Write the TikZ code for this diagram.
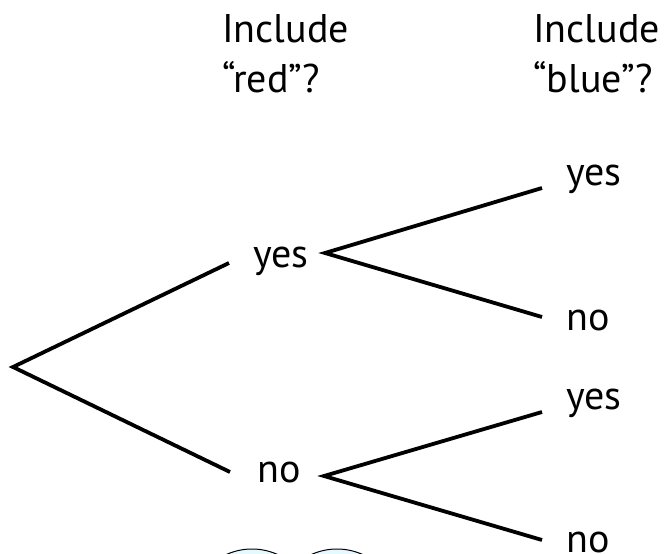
\documentclass[tikz,border=0pt]{standalone}
\usepackage{fontspec}
\setmainfont{PT Sans}
\begin{document}
\begin{tikzpicture}[x=1pt,y=-1pt,
  lbl/.style={anchor=base west,inner sep=0pt,font=\fontsize{40}{50}\selectfont},
  hdr/.style={lbl,align=left},
  branch/.style={line width=3.8pt,line join=miter,line cap=butt},
  bubble/.style={draw=black,line width=1pt,fill=blue!20!cyan!10!white}]
\useasboundingbox (0,0) rectangle (665,554);
\begin{scope}
\clip (0,0) rectangle (665,554);
\node[bubble,circle,minimum size=124pt,inner sep=0pt] (c1) at (252,611) {};
\node[bubble,circle,minimum size=124pt,inner sep=0pt] (c2) at (337,611) {};
\end{scope}
\node[hdr] (h1) at (222,92) {Include\\“red”?};
\node[hdr] (h2) at (533,92) {Include\\“blue”?};
\coordinate (root) at (13,367);
\coordinate (ya) at (229,263);
\coordinate (na) at (230,472);
\coordinate (yf) at (325,253);
\coordinate (nf) at (324,476);
\coordinate (yy) at (542,188);
\coordinate (yn) at (542,317);
\coordinate (ny) at (542,412);
\coordinate (nn) at (542,540);
\node[lbl] (yes1) at (253,267) {yes};
\node[lbl] (no1) at (257,482) {no};
\node[lbl] (yes2) at (566,185) {yes};
\node[lbl] (no2) at (566,330) {no};
\node[lbl] (yes3) at (566,409) {yes};
\node[lbl] (no3) at (566,552) {no};
\draw[branch] (ya) -- (root) -- (na);
\draw[branch] (yy) -- (yf) -- (yn);
\draw[branch] (ny) -- (nf) -- (nn);
\end{tikzpicture}
\end{document}
